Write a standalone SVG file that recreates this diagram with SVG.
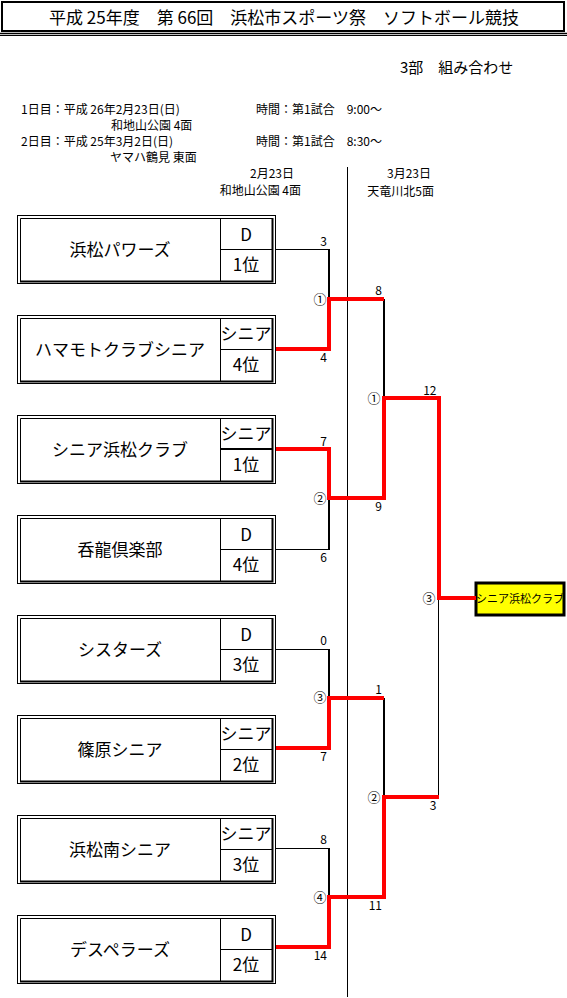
<svg xmlns="http://www.w3.org/2000/svg" xmlns:xlink="http://www.w3.org/1999/xlink" width="567" height="998" viewBox="0 0 567 998">
<style>
text{font-family:"Noto Sans CJK JP","Noto Sans",sans-serif;fill:#000}
.title{font-size:17px}
.sub{font-size:15px}
.info{font-size:12px}
.name{font-size:17px;text-anchor:middle}
.cell{font-size:17px;text-anchor:middle}
.sc{font-size:12px;text-anchor:end}
.mn{font-size:13px;text-anchor:middle}
.thin{stroke:#000;stroke-width:1;fill:none}
.blk{stroke:#000;stroke-width:2;fill:none}
.red{stroke:#FF0000;stroke-width:4;fill:none;stroke-linejoin:miter}
</style>
<defs>
<g id="frame">
<rect x="17.5" y="0.5" width="258" height="68" fill="#fff" stroke="#000" stroke-width="1"/>
<path d="M20.5,67 V3.5 H273" class="thin"/>
<path d="M272.5,3 V67.5 M20,66.5 H273.5" class="blk"/>
<path d="M220.5,3.5 V66 M220,34.5 H272" class="thin"/>
</g>
</defs>

<g id="header">
<rect x="2" y="2" width="562" height="29" fill="none" stroke="#000" stroke-width="2"/>
<line x1="0" y1="33.5" x2="567" y2="33.5" stroke="#000" stroke-width="1.5"/>
<line x1="0" y1="35.5" x2="567" y2="35.5" stroke="#000" stroke-width="1"/>
<text class="title" x="284" y="24" text-anchor="middle">平成 25年度　第 66回　浜松市スポーツ祭　ソフトボール競技</text>
<text class="sub" x="400" y="73">3部　組み合わせ</text>
<text class="info" x="21" y="114">1日目：平成 26年2月23日(日)</text>
<text class="info" x="256" y="114">時間：第1試合　9:00～</text>
<text class="info" x="111" y="130">和地山公園 4面</text>
<text class="info" x="21" y="146">2日目：平成 25年3月2日(日)</text>
<text class="info" x="256" y="146">時間：第1試合　8:30～</text>
<text class="info" x="110" y="162">ヤマハ鶴見 東面</text>
<text class="info" x="294" y="178" text-anchor="end">2月23日</text>
<text class="info" x="301" y="195" text-anchor="end">和地山公園 4面</text>
<text class="info" x="431" y="178" text-anchor="end">3月23日</text>
<text class="info" x="434" y="196" text-anchor="end">天竜川北5面</text>
</g>

<g id="team1" transform="translate(0,215)">
<use xlink:href="#frame"/>
<text class="name" x="120" y="41">浜松パワーズ</text>
<text class="cell" x="246" y="26">D</text>
<text class="cell" x="246" y="56">1位</text>
</g>
<g id="team2" transform="translate(0,315)">
<use xlink:href="#frame"/>
<text class="name" x="120" y="41">ハマモトクラブシニア</text>
<text class="cell" x="246" y="25">シニア</text>
<text class="cell" x="246" y="56">4位</text>
</g>
<g id="team3" transform="translate(0,415)">
<use xlink:href="#frame"/>
<line x1="220" y1="34" x2="272" y2="34" stroke="#000" stroke-width="2"/>
<text class="name" x="120" y="41">シニア浜松クラブ</text>
<text class="cell" x="246" y="25">シニア</text>
<text class="cell" x="246" y="56">1位</text>
</g>
<g id="team4" transform="translate(0,515)">
<use xlink:href="#frame"/>
<text class="name" x="120" y="41">呑龍倶楽部</text>
<text class="cell" x="246" y="26">D</text>
<text class="cell" x="246" y="56">4位</text>
</g>
<g id="team5" transform="translate(0,615)">
<use xlink:href="#frame"/>
<text class="name" x="120" y="41">シスターズ</text>
<text class="cell" x="246" y="26">D</text>
<text class="cell" x="246" y="56">3位</text>
</g>
<g id="team6" transform="translate(0,715)">
<use xlink:href="#frame"/>
<text class="name" x="120" y="41">篠原シニア</text>
<text class="cell" x="246" y="25">シニア</text>
<text class="cell" x="246" y="56">2位</text>
</g>
<g id="team7" transform="translate(0,815)">
<use xlink:href="#frame"/>
<text class="name" x="120" y="41">浜松南シニア</text>
<text class="cell" x="246" y="25">シニア</text>
<text class="cell" x="246" y="56">3位</text>
</g>
<g id="team8" transform="translate(0,915)">
<use xlink:href="#frame"/>
<text class="name" x="120" y="41">デスペラーズ</text>
<text class="cell" x="246" y="26">D</text>
<text class="cell" x="246" y="56">2位</text>
</g>

<g id="winner">
<rect x="476" y="583" width="88" height="32" fill="#FFFF00" stroke="#000" stroke-width="3"/>
<text x="520" y="603" font-size="11" text-anchor="middle">シニア浜松クラブ</text>
</g>

<g id="connectors">
<line x1="347.5" y1="167" x2="347.5" y2="997" class="thin"/>
<path d="M276,249.5 H329" class="thin"/>
<path d="M276,549.5 H329" class="thin"/>
<path d="M276,649.5 H329" class="thin"/>
<path d="M276,848.5 H329" class="thin"/>
<path d="M329,249 V299" class="blk"/>
<path d="M329,498 V550" class="blk"/>
<path d="M329,649 V698" class="blk"/>
<path d="M329,848 V897" class="blk"/>
<path d="M384,299 V398" class="blk"/>
<path d="M384,698 V797" class="blk"/>
<path d="M438.5,598 V797" class="thin"/>
<path d="M276,349 H329 V299 H384" class="red"/>
<path d="M276,449 H329 V498 H384 V398 H439 V598 H476" class="red"/>
<path d="M276,748 H329 V698 H384" class="red"/>
<path d="M276,947 H329 V897 H384 V797 H439" class="red"/>
</g>

<g id="labels">
<text class="sc" x="327" y="245.5">3</text>
<text class="sc" x="327" y="362">4</text>
<text class="sc" x="327" y="445.5">7</text>
<text class="sc" x="327" y="562">6</text>
<text class="sc" x="327" y="645">0</text>
<text class="sc" x="327" y="761">7</text>
<text class="sc" x="327" y="844">8</text>
<text class="sc" x="327" y="960">14</text>
<text class="sc" x="382" y="295">8</text>
<text class="sc" x="382" y="511">9</text>
<text class="sc" x="382" y="694">1</text>
<text class="sc" x="382" y="910">11</text>
<text class="sc" x="436.5" y="394.5">12</text>
<text class="sc" x="436.5" y="810">3</text>
<text class="mn" x="320" y="303.5">①</text>
<text class="mn" x="320" y="502.5">②</text>
<text class="mn" x="320" y="702">③</text>
<text class="mn" x="320" y="901.5">④</text>
<text class="mn" x="374" y="402.5">①</text>
<text class="mn" x="374" y="801.5">②</text>
<text class="mn" x="429" y="602.5">③</text>
</g>
</svg>
